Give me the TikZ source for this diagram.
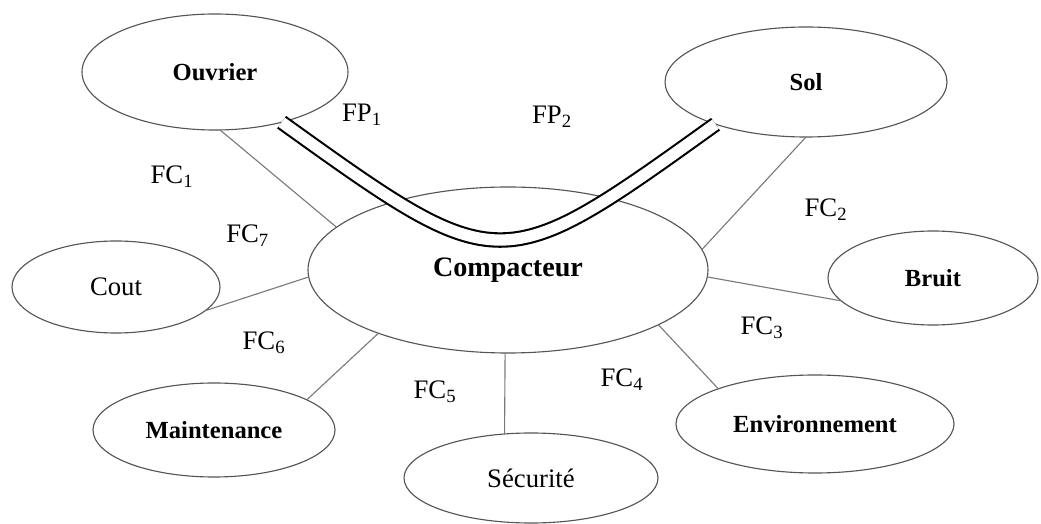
\documentclass[tikz,border=0pt]{standalone}
\usepackage{fontspec}
\setmainfont{Liberation Serif}
\usepackage{tikz}
\usetikzlibrary{shapes.geometric, positioning, calc}
\definecolor{rimgray}{HTML}{555555}
\definecolor{linkgray}{HTML}{7A7A7A}

\tikzset{
  bubble/.style={ellipse, draw=rimgray, line width=0.8pt, inner sep=0pt, outer sep=0pt,
    font=\fontsize{17.5}{20}\selectfont\bfseries},
  plainbubble/.style={bubble, font=\fontsize{19}{22}\selectfont},
  link/.style={draw=linkgray, line width=0.8pt},
  flow/.style={draw=black, line width=1.5pt, double=white, double distance=8pt},
  fnlabel/.style={font=\fontsize{19}{22}\selectfont}
}

\begin{document}
\begin{tikzpicture}
  \useasboundingbox (0,0) rectangle (26.025,13.1);

  % Central product
  \node[bubble, font=\fontsize{20}{22}\selectfont\bfseries, minimum width=10cm, minimum height=4.15cm] (comp) at (12.7, 6.35) {Compacteur};

  % Surrounding elements
  \node[bubble, minimum width=6.65cm, minimum height=2.9cm] (ouvrier) at (5.375, 11.3) {Ouvrier};
  \node[bubble, minimum width=7.05cm, minimum height=2.75cm] (sol) at (20.15, 11.05) {Sol};
  \node[plainbubble, minimum width=5.2cm, minimum height=2.3cm] (cout) at (2.9, 5.925) {Cout};
  \node[bubble, minimum width=5.25cm, minimum height=2.35cm] (bruit) at (23.325, 6.15) {Bruit};
  \node[bubble, minimum width=6.05cm, minimum height=2.35cm] (maint) at (5.35, 2.35) {Maintenance};
  \node[plainbubble, minimum width=6.35cm, minimum height=2.25cm] (secu) at (13.275, 1.15) {Sécurité};
  \node[bubble, minimum width=6.95cm, minimum height=2.45cm] (env) at (20.375, 2.5) {Environnement};

  % Constraint functions
  \draw[link] (ouvrier.-85) -- (comp.166);
  \draw[link] (sol.-90) -- (comp.6);
  \draw[link] (comp.-2) -- (bruit.-166);
  \draw[link] (comp.-20) -- (env.160);
  \draw[link] (comp.-92) -- (secu.121);
  \draw[link] (comp.-154) -- (maint.18);
  \draw[link] (comp.-178) -- (cout.-15);

  % Main function: Ouvrier -> Sol through the machine
  \draw[flow] (ouvrier.-37) .. controls (12.5, 6.125) .. (sol.-155);

  % Function labels
  \foreach \x/\y/\name/\k in {
    9.05/10.225/FP/1,
    13.8/10.175/FP/2,
    4.3/8.675/FC/1,
    20.65/7.85/FC/2,
    19.05/4.9/FC/3,
    15.55/3.6/FC/4,
    10.875/3.3/FC/5,
    6.6/4.525/FC/6,
    6.25/7.2/FC/7
  } {
    \node[fnlabel] at (\x, \y) {\name\textsubscript{\k}};
  }
\end{tikzpicture}
\end{document}
